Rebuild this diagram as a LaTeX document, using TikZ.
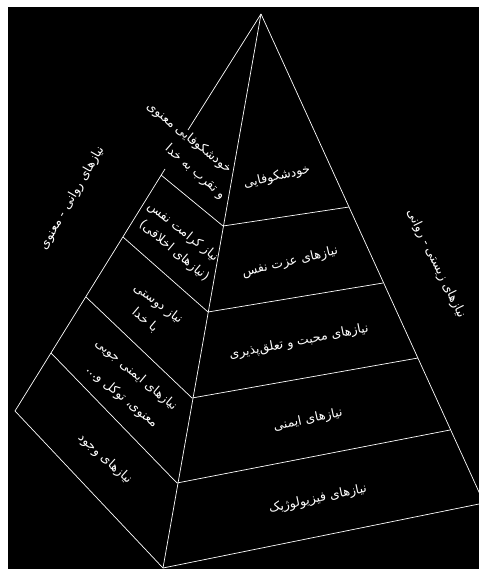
\documentclass[tikz,border=0pt]{standalone}
\usepackage{fontspec}
\newfontfamily\arabicfont[Script=Arabic]{DejaVu Sans}
\TeXXeTstate=1
\begin{document}
\begin{tikzpicture}[x=1pt,y=-1pt,
  edge/.style={draw=white,line width=0.7pt,line join=round},
  lbl/.style={text=white,inner sep=0pt,font=\arabicfont\fontsize{12.6}{14}\selectfont},
  side/.style={text=white,inner sep=0pt,font=\arabicfont\fontsize{12.6}{14}\selectfont}]
\useasboundingbox (0,0) rectangle (479,569);
\fill[white] (0,0) rectangle (479,569);
\fill[black] (8,7) rectangle (479,569);
\clip (0,0) rectangle (479,569);
% corners
\coordinate (apex) at (261,14);
\coordinate (L) at (15,411);
\coordinate (B) at (163,568);
\coordinate (R) at (484,503);
\coordinate (P1) at (188,130);
\coordinate (P2) at (165,169);
\coordinate (A) at (223,226);
\coordinate (Bc) at (208,312);
\coordinate (C) at (192,398);
\coordinate (D) at (177,483);
\coordinate (RA) at (349,207);
\coordinate (RB) at (383,283);
\coordinate (RC) at (418,358);
\coordinate (RD) at (450,430);
\coordinate (LA) at (161,175);
\coordinate (LB) at (123,237);
\coordinate (LC) at (86,297);
\coordinate (LD) at (51,353);
% outline
\draw[edge] (apex) -- (P1);
\draw[edge] (P2) -- (L) -- (B) -- (R);
\draw[edge] (apex) -- (B);
\draw[edge] (apex) -- (R);
% dividers
\draw[edge] (LA) -- (A) -- (RA);
\draw[edge] (LB) -- (Bc) -- (RB);
\draw[edge] (LC) -- (C) -- (RC);
\draw[edge] (LD) -- (D) -- (RD);
% right face
\node[lbl,rotate=13] (r1) at (277,177) {\beginR خودشکوفایی\endR};
\node[lbl,rotate=13] (r2) at (290,262) {\beginR نیازهای عزت نفس\endR};
\node[lbl,rotate=11] (r3) at (299,342) {\beginR نیازهای محبت و تعلق‌پذیری\endR};
\node[lbl,rotate=12] (r4) at (308,420) {\beginR نیازهای ایمنی\endR};
\node[lbl,rotate=12] (r5) at (318,499) {\beginR نیازهای فیزیولوژیک\endR};
% left face
\node[lbl,rotate=-39] (l1a) at (189,138) {\beginR خودشکوفایی معنوی\endR};
\node[lbl,rotate=-41] (l1b) at (195,172) {\beginR و تقرب به خدا\endR};
\node[lbl,rotate=-39] (l2a) at (183,232) {\beginR نیاز کرامت نفس\endR};
\node[lbl,rotate=-40] (l2b) at (174,251) {\beginR (نیازهای اخلاقی)\endR};
\node[lbl,rotate=-37] (l3a) at (158,304) {\beginR نیاز دوستی\endR};
\node[lbl,rotate=-40] (l3b) at (145,320) {\beginR با خدا\endR};
\node[lbl,rotate=-40] (l4a) at (136,375) {\beginR نیازهای ایمنی جویی\endR};
\node[lbl,rotate=-40] (l4b) at (122,397) {\beginR معنوی، توکل و...\endR};
\node[lbl,rotate=-42] (l5) at (105,459) {\beginR نیازهای وجود\endR};
% side labels
\node[side,rotate=60] (sl) at (72,198) {\beginR نیازهای روانی - معنوی\endR};
\node[side,rotate=-64] (sr) at (436,264) {\beginR نیازهای زیستی - روانی\endR};
\end{tikzpicture}
\end{document}
